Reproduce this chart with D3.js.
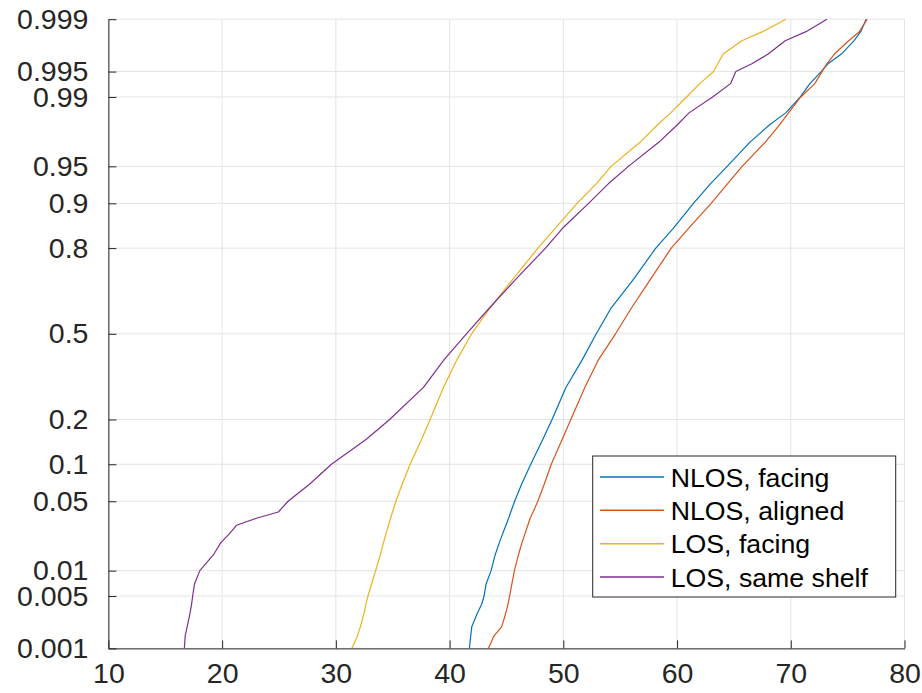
<!DOCTYPE html>
<html>
<head>
<meta charset="utf-8">
<script src="https://cdn.jsdelivr.net/npm/d3@7"></script>
<style>
  html, body { margin: 0; padding: 0; background: #fff; }
  svg { display: block; }
  text { font-family: "Liberation Sans", Arial, Helvetica, sans-serif; }
</style>
</head>
<body>
<svg id="chart" width="922" height="693"></svg>
<script>
// Cumulative probability levels shared by every series
const probLevels = [0.001, 0.0015, 0.002, 0.003, 0.004, 0.005, 0.007, 0.01, 0.015, 0.02,
  0.025, 0.03, 0.035, 0.04, 0.05, 0.07, 0.1, 0.15, 0.2, 0.3,
  0.4, 0.5, 0.6, 0.7, 0.8, 0.85, 0.9, 0.93, 0.95, 0.97,
  0.98, 0.985, 0.99, 0.993, 0.995, 0.996, 0.997, 0.998, 0.9985, 0.999];

// Quantile values of each series at those levels
const nlosFacing = [41.74, 41.86, 41.95, 42.43, 42.84, 43.03, 43.21, 43.65, 44.01, 44.37,
  44.68, 44.96, 45.19, 45.38, 45.72, 46.34, 47.14, 48.20, 49.01, 50.24,
  51.67, 52.90, 54.20, 56.10, 58.13, 59.67, 61.44, 62.95, 64.41, 66.39,
  68.14, 69.56, 70.84, 71.68, 72.67, 73.27, 74.45, 75.55, 76.15, 76.63];
const nlosAligned = [43.41, 43.90, 44.58, 44.93, 45.14, 45.28, 45.48, 45.70, 46.06, 46.36,
  46.64, 46.88, 47.08, 47.34, 47.76, 48.33, 48.94, 49.91, 50.66, 51.90,
  53.10, 54.59, 55.99, 57.60, 59.49, 61.01, 63.00, 64.45, 65.73, 67.74,
  69.03, 69.80, 70.88, 72.11, 72.75, 73.17, 73.84, 75.09, 76.03, 76.72];
const losFacing = [31.40, 31.90, 32.15, 32.47, 32.65, 32.82, 33.14, 33.50, 33.91, 34.18,
  34.42, 34.63, 34.81, 34.98, 35.28, 35.84, 36.53, 37.54, 38.29, 39.47,
  40.65, 41.94, 43.55, 45.48, 47.77, 49.28, 51.21, 52.91, 54.20, 56.74,
  58.29, 59.44, 60.84, 62.00, 63.21, 63.58, 64.05, 65.70, 67.52, 69.57];
const losSameShelf = [16.68, 16.75, 16.92, 17.17, 17.32, 17.41, 17.57, 18.04, 19.24, 19.87,
  20.67, 21.26, 23.02, 24.94, 25.80, 27.71, 29.61, 32.68, 34.73, 37.72,
  39.52, 41.48, 43.50, 45.73, 48.43, 49.93, 52.22, 53.98, 55.72, 58.39,
  60.03, 61.05, 63.13, 64.70, 65.17, 66.58, 68.01, 69.51, 71.34, 73.18];

const seriesNames = ["NLOS, facing", "NLOS, aligned", "LOS, facing", "LOS, same shelf"];
const seriesColors = ["#0072BD", "#D95319", "#EDB120", "#7E2F8E"];
const seriesValues = [nlosFacing, nlosAligned, losFacing, losSameShelf];

const xTicks = [10, 20, 30, 40, 50, 60, 70, 80];
const yTicks = [0.001, 0.005, 0.01, 0.05, 0.1, 0.2, 0.5, 0.8, 0.9, 0.95, 0.99, 0.995, 0.999];

// Inverse of the standard normal CDF (Acklam's rational approximation)
function probit(p) {
  const a = [-3.969683028665376e+01, 2.209460984245205e+02, -2.759285104469687e+02,
             1.383577518672690e+02, -3.066479806614716e+01, 2.506628277459239e+00];
  const b = [-5.447609879822406e+01, 1.615858368580409e+02, -1.556989798598866e+02,
             6.680131188771972e+01, -1.328068155288572e+01];
  const c = [-7.784894002430293e-03, -3.223964580411365e-01, -2.400758277161838e+00,
             -2.549732539343734e+00, 4.374664141464968e+00, 2.938163982698783e+00];
  const d = [7.784695709041462e-03, 3.224671290700398e-01, 2.445134137142996e+00,
             3.754408661907416e+00];
  const pLow = 0.02425, pHigh = 1 - pLow;
  let q, r;
  if (p < pLow) {
    q = Math.sqrt(-2 * Math.log(p));
    return (((((c[0]*q + c[1])*q + c[2])*q + c[3])*q + c[4])*q + c[5]) /
           ((((d[0]*q + d[1])*q + d[2])*q + d[3])*q + 1);
  } else if (p <= pHigh) {
    q = p - 0.5; r = q * q;
    return (((((a[0]*r + a[1])*r + a[2])*r + a[3])*r + a[4])*r + a[5]) * q /
           (((((b[0]*r + b[1])*r + b[2])*r + b[3])*r + b[4])*r + 1);
  } else {
    q = Math.sqrt(-2 * Math.log(1 - p));
    return -(((((c[0]*q + c[1])*q + c[2])*q + c[3])*q + c[4])*q + c[5]) /
            ((((d[0]*q + d[1])*q + d[2])*q + d[3])*q + 1);
  }
}

const plotLeft = 108.4, plotRight = 904.5, plotTop = 19.2, plotBottom = 648.4;

const x = d3.scaleLinear().domain([10, 80]).range([plotLeft, plotRight]);

// Normal-probability scale: linear in probit(p)
const zLin = d3.scaleLinear().domain([probit(0.001), probit(0.999)]).range([plotBottom, plotTop]);
function y(p) { return zLin(probit(p)); }
y.copy = () => y;
y.domain = () => [0.001, 0.999];
y.range = () => zLin.range();

const svg = d3.select("#chart");

// Grid
const grid = svg.append("g").attr("stroke", "#e4e4e4").attr("stroke-width", 1);
grid.selectAll("line.gx").data(xTicks).join("line")
  .attr("x1", d => x(d)).attr("x2", d => x(d))
  .attr("y1", plotTop).attr("y2", plotBottom);
grid.selectAll("line.gy").data(yTicks).join("line")
  .attr("x1", plotLeft).attr("x2", plotRight)
  .attr("y1", d => y(d)).attr("y2", d => y(d));

// Series
svg.append("clipPath").attr("id", "plotClip")
  .append("rect").attr("x", plotLeft).attr("y", plotTop - 1)
  .attr("width", plotRight - plotLeft).attr("height", plotBottom - plotTop + 1);

const line = d3.line()
  .x(d => x(d[0]))
  .y(d => y(d[1]));

const lines = svg.append("g").attr("clip-path", "url(#plotClip)");
seriesValues.forEach((vals, i) => {
  lines.append("path")
    .datum(vals.map((v, k) => [v, probLevels[k]]))
    .attr("fill", "none")
    .attr("stroke", seriesColors[i])
    .attr("stroke-width", 1.2)
    .attr("stroke-linejoin", "round")
    .attr("d", line);
});

// Axes (ticks point inward)
const axisColor = "#262626";
const xAxis = svg.append("g")
  .attr("transform", `translate(0,${plotBottom})`)
  .call(d3.axisBottom(x).tickValues(xTicks).tickFormat(d3.format("d"))
    .tickSizeInner(-8).tickSizeOuter(0).tickPadding(14));
const yAxis = svg.append("g")
  .attr("transform", `translate(${plotLeft},0)`)
  .call(d3.axisLeft(y).tickValues(yTicks).tickFormat(d => String(d))
    .tickSizeInner(-8).tickSizeOuter(0).tickPadding(20));

[xAxis, yAxis].forEach(g => {
  g.select(".domain").attr("stroke", axisColor).attr("stroke-width", 1);
  g.selectAll(".tick line").attr("stroke", axisColor).attr("stroke-width", 1);
  g.selectAll(".tick text")
    .attr("fill", axisColor)
    .style("font-size", "28.5px")
    .style("font-family", "'Liberation Sans', Arial, Helvetica, sans-serif");
});

// Legend
const legend = svg.append("g");
legend.append("rect")
  .attr("x", 592.7).attr("y", 456)
  .attr("width", 303).attr("height", 141)
  .attr("fill", "#fff").attr("stroke", axisColor).attr("stroke-width", 1);

const rowY = d3.scalePoint().domain(seriesNames).range([477, 577]);
seriesNames.forEach((name, i) => {
  legend.append("line")
    .attr("x1", 600).attr("x2", 664)
    .attr("y1", rowY(name)).attr("y2", rowY(name))
    .attr("stroke", seriesColors[i]).attr("stroke-width", 1.5);
  legend.append("text")
    .attr("x", 670.7).attr("y", rowY(name)).attr("dy", "0.36em")
    .attr("fill", "#000")
    .style("font-size", "26.7px")
    .text(name);
});
</script>
</body>
</html>
